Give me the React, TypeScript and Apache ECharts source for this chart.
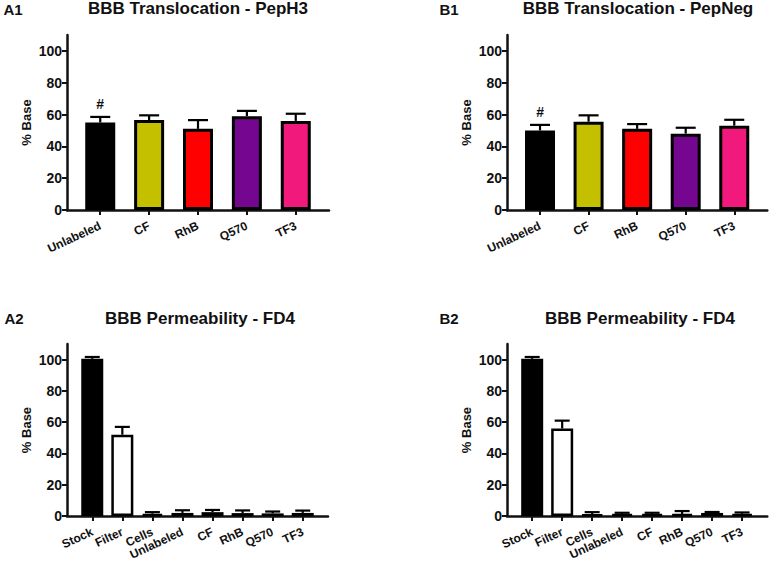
import React, { useEffect, useRef } from "react";
import * as echarts from "echarts";

const transCats = ["Unlabeled", "CF", "RhB", "Q570", "TF3"];
const transColors = ["#000000", "#c4c000", "#ff0000", "#74068f", "#f2197c"];
const pepH3Mean = [55, 56.5, 51, 59, 56];
const pepH3Err = [3.5, 3, 5.5, 3.3, 4.5];
const pepH3Marks = ["#", "", "", "", ""];
const pepNegMean = [50, 55.5, 51, 48, 53];
const pepNegErr = [3.5, 4, 3, 3.7, 3.7];
const pepNegMarks = ["#", "", "", "", ""];

const permCats = ["Stock", "Filter", "Cells", "Unlabeled", "CF", "RhB", "Q570", "TF3"];
const permColors = ["#000000", "#ffffff", "#000000", "#c4c000", "#ff0000", "#74068f", "#000000", "#f2197c"];
const fd4AMean = [100.5, 52, 1.5, 2, 2.5, 1.9, 1.7, 2];
const fd4AErr = [1.2, 5, 1, 1.7, 1.4, 1.7, 1.2, 1.5];
const fd4BMean = [100.5, 56, 1, 1.3, 1.3, 1.3, 2, 1.5];
const fd4BErr = [1.2, 5, 1.5, 0.8, 0.8, 1.9, 0.6, 0.8];
const noMarks = ["", "", "", "", "", "", "", ""];

const panelTags = ["A1", "B1", "A2", "B2"];
const panelTitles = ["BBB Translocation - PepH3", "BBB Translocation - PepNeg", "BBB Permeability - FD4", "BBB Permeability - FD4"];

const yTicks = [0, 20, 40, 60, 80, 100];
const FONT = "'Liberation Sans', Arial, sans-serif";
const INK = "#111111";

export default function App() {
  const ref = useRef<HTMLDivElement>(null);
  useEffect(() => {
    if (!ref.current) return;
    const chart = echarts.init(ref.current, undefined, { renderer: "svg" });

    const panels = [
      { grid: { left: 67, top: 35, width: 262, height: 175 }, cats: transCats, colors: transColors, mean: pepH3Mean, err: pepH3Err, marks: pepH3Marks, min: -0.68, max: 4.68, barWidth: 30, border: 3, cap: 20, tagX: 13, tagY: 9, titleX: 198, titleY: 8 },
      { grid: { left: 507, top: 35, width: 262, height: 175 }, cats: transCats, colors: transColors, mean: pepNegMean, err: pepNegErr, marks: pepNegMarks, min: -0.68, max: 4.68, barWidth: 30, border: 3, cap: 20, tagX: 449, tagY: 9, titleX: 638, titleY: 8 },
      { grid: { left: 67, top: 344, width: 261, height: 174 }, cats: permCats, colors: permColors, mean: fd4AMean, err: fd4AErr, marks: noMarks, min: -0.84, max: 7.84, barWidth: 22, border: 2.5, cap: 15, tagX: 14, tagY: 318, titleX: 200, titleY: 318 },
      { grid: { left: 507, top: 344, width: 261, height: 174 }, cats: permCats, colors: permColors, mean: fd4BMean, err: fd4BErr, marks: noMarks, min: -0.84, max: 7.84, barWidth: 22, border: 2.5, cap: 15, tagX: 449, tagY: 318, titleX: 640, titleY: 318 },
    ];

    const grids: any[] = [];
    const xAxes: any[] = [];
    const yAxes: any[] = [];
    const series: any[] = [];
    const titles: any[] = [];

    panels.forEach((p, i) => {
      const idx = p.cats.map((_, k) => k);
      grids.push(p.grid);
      titles.push({
        text: panelTags[i],
        left: p.tagX,
        top: p.tagY - 8,
        textAlign: "center",
        padding: 0,
        textStyle: { fontFamily: FONT, fontWeight: "bold", fontSize: 15, color: INK, lineHeight: 16 },
      });
      titles.push({
        text: panelTitles[i],
        left: p.titleX,
        top: p.titleY - 9,
        textAlign: "center",
        padding: 0,
        textStyle: { fontFamily: FONT, fontWeight: "bold", fontSize: 17, color: INK, lineHeight: 18 },
      });
      xAxes.push({
        type: "value",
        gridIndex: i,
        min: p.min,
        max: p.max,
        splitLine: { show: false },
        axisLine: { show: true, onZero: false, lineStyle: { color: INK, width: 2.5 } },
        axisTick: { show: true, customValues: idx, length: 5, lineStyle: { color: INK, width: 2 } },
        axisLabel: {
          customValues: [p.min, ...idx, p.max],
          formatter: (v: number) => (Number.isInteger(v) ? p.cats[v] ?? "" : ""),
          rotate: 25,
          margin: 15,
          fontFamily: FONT,
          fontWeight: "bold",
          fontSize: 12,
          color: INK,
        },
      });
      yAxes.push({
        type: "value",
        gridIndex: i,
        min: 0,
        max: 110,
        interval: 20,
        splitLine: { show: false },
        axisLine: { show: true, onZero: false, lineStyle: { color: INK, width: 2.5 } },
        axisTick: { show: true, customValues: yTicks, length: 5, lineStyle: { color: INK, width: 2 } },
        axisLabel: {
          customValues: yTicks,
          margin: 5,
          fontFamily: FONT,
          fontWeight: "bold",
          fontSize: 14,
          color: INK,
        },
        name: "% Base",
        nameLocation: "middle",
        nameGap: 34,
        nameTextStyle: { fontFamily: FONT, fontWeight: "bold", fontSize: 13, color: INK },
      });
      series.push({
        type: "bar",
        xAxisIndex: i,
        yAxisIndex: i,
        barWidth: p.barWidth,
        data: p.mean.map((v, k) => ({
          value: [k, v],
          itemStyle: { color: p.colors[k], borderColor: "#000", borderWidth: p.border },
        })),
        z: 2,
      });
      series.push({
        type: "custom",
        xAxisIndex: i,
        yAxisIndex: i,
        z: 3,
        data: p.mean.map((v, k) => [k, v, p.err[k]]),
        renderItem: (params: any, api: any) => {
          const k = api.value(0);
          const v = api.value(1);
          const e = api.value(2);
          const p0 = api.coord([k, v]);
          const p1 = api.coord([k, v + e]);
          const half = p.cap / 2;
          const children: any[] = [
            { type: "line", shape: { x1: p0[0], y1: p0[1], x2: p1[0], y2: p1[1] }, style: { stroke: "#000", lineWidth: 2.2 } },
            { type: "line", shape: { x1: p1[0] - half, y1: p1[1], x2: p1[0] + half, y2: p1[1] }, style: { stroke: "#000", lineWidth: 2.2 } },
          ];
          const mark = p.marks[params.dataIndex];
          if (mark) {
            children.push({
              type: "text",
              x: p1[0],
              y: p1[1] - 13,
              style: { text: mark, fill: INK, font: `bold 14px ${FONT}`, align: "center", verticalAlign: "middle" },
            });
          }
          return { type: "group", children };
        },
      });
    });

    chart.setOption({
      animation: false,
      backgroundColor: "#ffffff",
      title: titles,
      grid: grids,
      xAxis: xAxes,
      yAxis: yAxes,
      series,
    });
    return () => chart.dispose();
  }, []);
  return <div ref={ref} style={{ position: "fixed", left: 0, top: 0, width: 770, height: 562 }} />;
}
